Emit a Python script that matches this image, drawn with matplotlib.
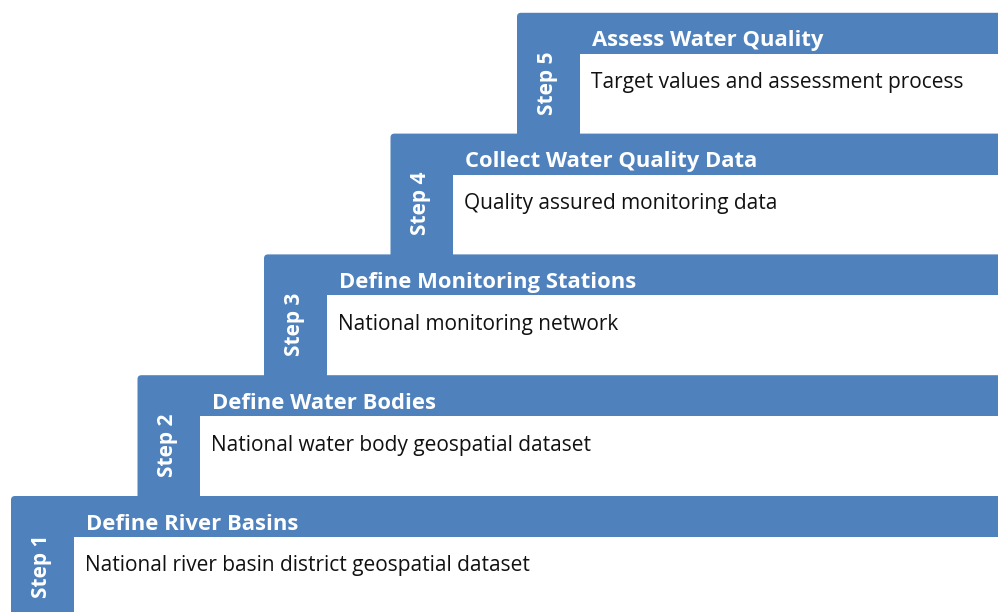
"""Five-step staircase diagram: water quality assessment workflow."""
import matplotlib
matplotlib.use("Agg")
import matplotlib.pyplot as plt
from matplotlib.patches import FancyBboxPatch, Rectangle

BLUE = "#4F81BD"
FONT = "Open Sans"

steps = ["Step 1", "Step 2", "Step 3", "Step 4", "Step 5"]
titles = ["Define River Basins", "Define Water Bodies", "Define Monitoring Stations",
          "Collect Water Quality Data", "Assess Water Quality"]
details = ["National river basin district geospatial dataset",
           "National water body geospatial dataset",
           "National monitoring network",
           "Quality assured monitoring data",
           "Target values and assessment process"]

W, H = 998, 612
fig = plt.figure(figsize=(W / 100, H / 100), dpi=100)
ax = fig.add_axes([0, 0, 1, 1])
ax.set_xlim(0, W); ax.set_ylim(H, 0); ax.axis("off")

# layout of the stair (pixels)
X0, Y0 = 11, 496          # top-left corner of step 1
DX, DY = 126.5, -120.8    # shift between steps
TAB = 63                  # width of the "Step n" tab
HEAD = 41                 # height of the title bar

# draw from the top step down so lower steps sit in front
for i in reversed(range(len(steps))):
    x, y = X0 + i * DX, Y0 + i * DY
    ax.add_patch(FancyBboxPatch((x, y), W + 20 - x, H + 20 - y,
                                boxstyle="round,pad=0,rounding_size=4",
                                facecolor=BLUE, edgecolor="none"))
    ax.add_patch(Rectangle((x + TAB, y + HEAD), W + 20 - x - TAB, H + 20 - y,
                           facecolor="white", edgecolor="none"))
    ax.text(x + TAB / 2 - 1, y + 70, steps[i], rotation=90, ha="center", va="center",
            fontsize=15, fontweight="bold", color="white", family=FONT)
    ax.text(x + TAB + 12, y + 28, titles[i], ha="left", va="center",
            fontsize=15.8, fontweight="bold", color="white", family=FONT)
    ax.text(x + TAB + 11, y + 70, details[i], ha="left", va="center",
            fontsize=15, color="#111111", family=FONT)

fig.savefig("out.png", dpi=100)
